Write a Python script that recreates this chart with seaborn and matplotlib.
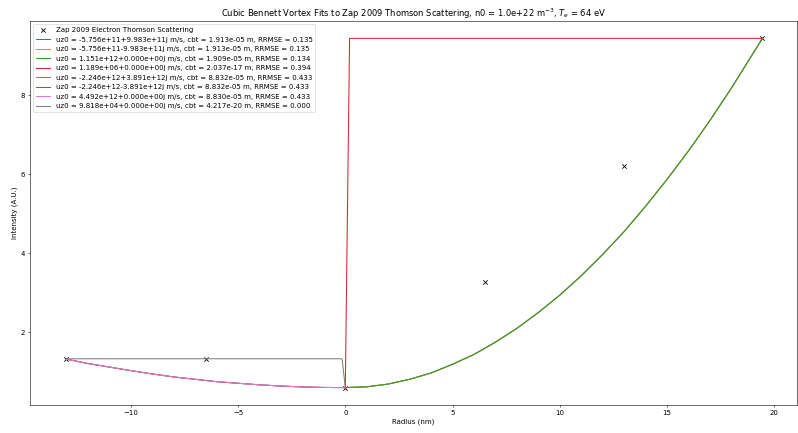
import matplotlib
matplotlib.use("Agg")
import matplotlib.pyplot as plt
import seaborn as sns

# Measured data (Zap 2009 electron Thomson scattering)
radius_data = [-13.0, -6.5, 0.0, 6.5, 13.0, 19.45]
intensity_data = [1.33, 1.33, 0.60, 3.27, 6.20, 9.44]

# Fit curves
r_right = [0, 1, 2, 3, 4, 5, 6, 7, 8, 9, 10, 11, 12, 13, 14, 15, 16, 17, 18, 19, 19.45]
i_right = [0.60, 0.62, 0.69, 0.81, 0.97, 1.19, 1.44, 1.75, 2.10, 2.50, 2.94,
           3.43, 3.97, 4.55, 5.19, 5.87, 6.59, 7.36, 8.18, 9.05, 9.44]

r_left = [-13, -12, -11, -10, -9, -8, -7, -6, -5, -4, -3, -2, -1, 0]
i_left = [1.32, 1.21, 1.12, 1.03, 0.945, 0.87, 0.81, 0.75, 0.71, 0.67, 0.64, 0.617, 0.604, 0.60]

r_step = [0.0, 0.2, 19.45]
i_step = [0.60, 9.44, 9.44]

r_flat = [-13.0, -6.5, -0.15, 0.0]
i_flat = [1.33, 1.33, 1.33, 0.60]

labels = [
    "uz0 = -5.756e+11+9.983e+11j m/s, cbt = 1.913e-05 m, RRMSE = 0.135",
    "uz0 = -5.756e+11-9.983e+11j m/s, cbt = 1.913e-05 m, RRMSE = 0.135",
    "uz0 = 1.151e+12+0.000e+00j m/s, cbt = 1.909e-05 m, RRMSE = 0.134",
    "uz0 = 1.189e+06+0.000e+00j m/s, cbt = 2.037e-17 m, RRMSE = 0.394",
    "uz0 = -2.246e+12+3.891e+12j m/s, cbt = 8.832e-05 m, RRMSE = 0.433",
    "uz0 = -2.246e+12-3.891e+12j m/s, cbt = 8.832e-05 m, RRMSE = 0.433",
    "uz0 = 4.492e+12+0.000e+00j m/s, cbt = 8.830e-05 m, RRMSE = 0.433",
    "uz0 = 9.818e+04+0.000e+00j m/s, cbt = 4.217e-20 m, RRMSE = 0.000",
]
curves = [
    (r_right, i_right), (r_right, i_right), (r_right, i_right),
    (r_step, i_step),
    (r_left, i_left), (r_left, i_left), (r_left, i_left),
    (r_flat, i_flat),
]
colors = ["tab:blue", "tab:orange", "tab:green", "tab:red",
          "tab:purple", "tab:brown", "tab:pink", "tab:gray"]

fig = plt.figure(figsize=(15.96, 8.66), dpi=50)
ax = fig.add_subplot(111)
fig.subplots_adjust(left=0.0376, right=0.999, top=0.9515, bottom=0.0647)

sns.scatterplot(x=radius_data, y=intensity_data, marker="x", color="black",
                s=40, linewidth=1.2, label="Zap 2009 Electron Thomson Scattering", ax=ax)

for (xs, ys), lab, col in zip(curves, labels, colors):
    sns.lineplot(x=xs, y=ys, color=col, label=lab, ax=ax,
                 estimator=None, errorbar=None, sort=False, linewidth=1.5)

ax.set_xlim(-14.7, 21.07)
ax.set_ylim(0.16, 9.88)
ax.set_xticks([-10, -5, 0, 5, 10, 15, 20])
ax.set_yticks([2, 4, 6, 8])
ax.set_xlabel("Radius (nm)")
ax.set_ylabel("Intensity (A.U.)")
ax.set_title("Cubic Bennett Vortex Fits to Zap 2009 Thomson Scattering, "
             "n0 = 1.0e+22 m$^{-3}$, $T_e$ = 64 eV")
ax.legend(loc="upper left")

fig.savefig("out.png", dpi=50)
